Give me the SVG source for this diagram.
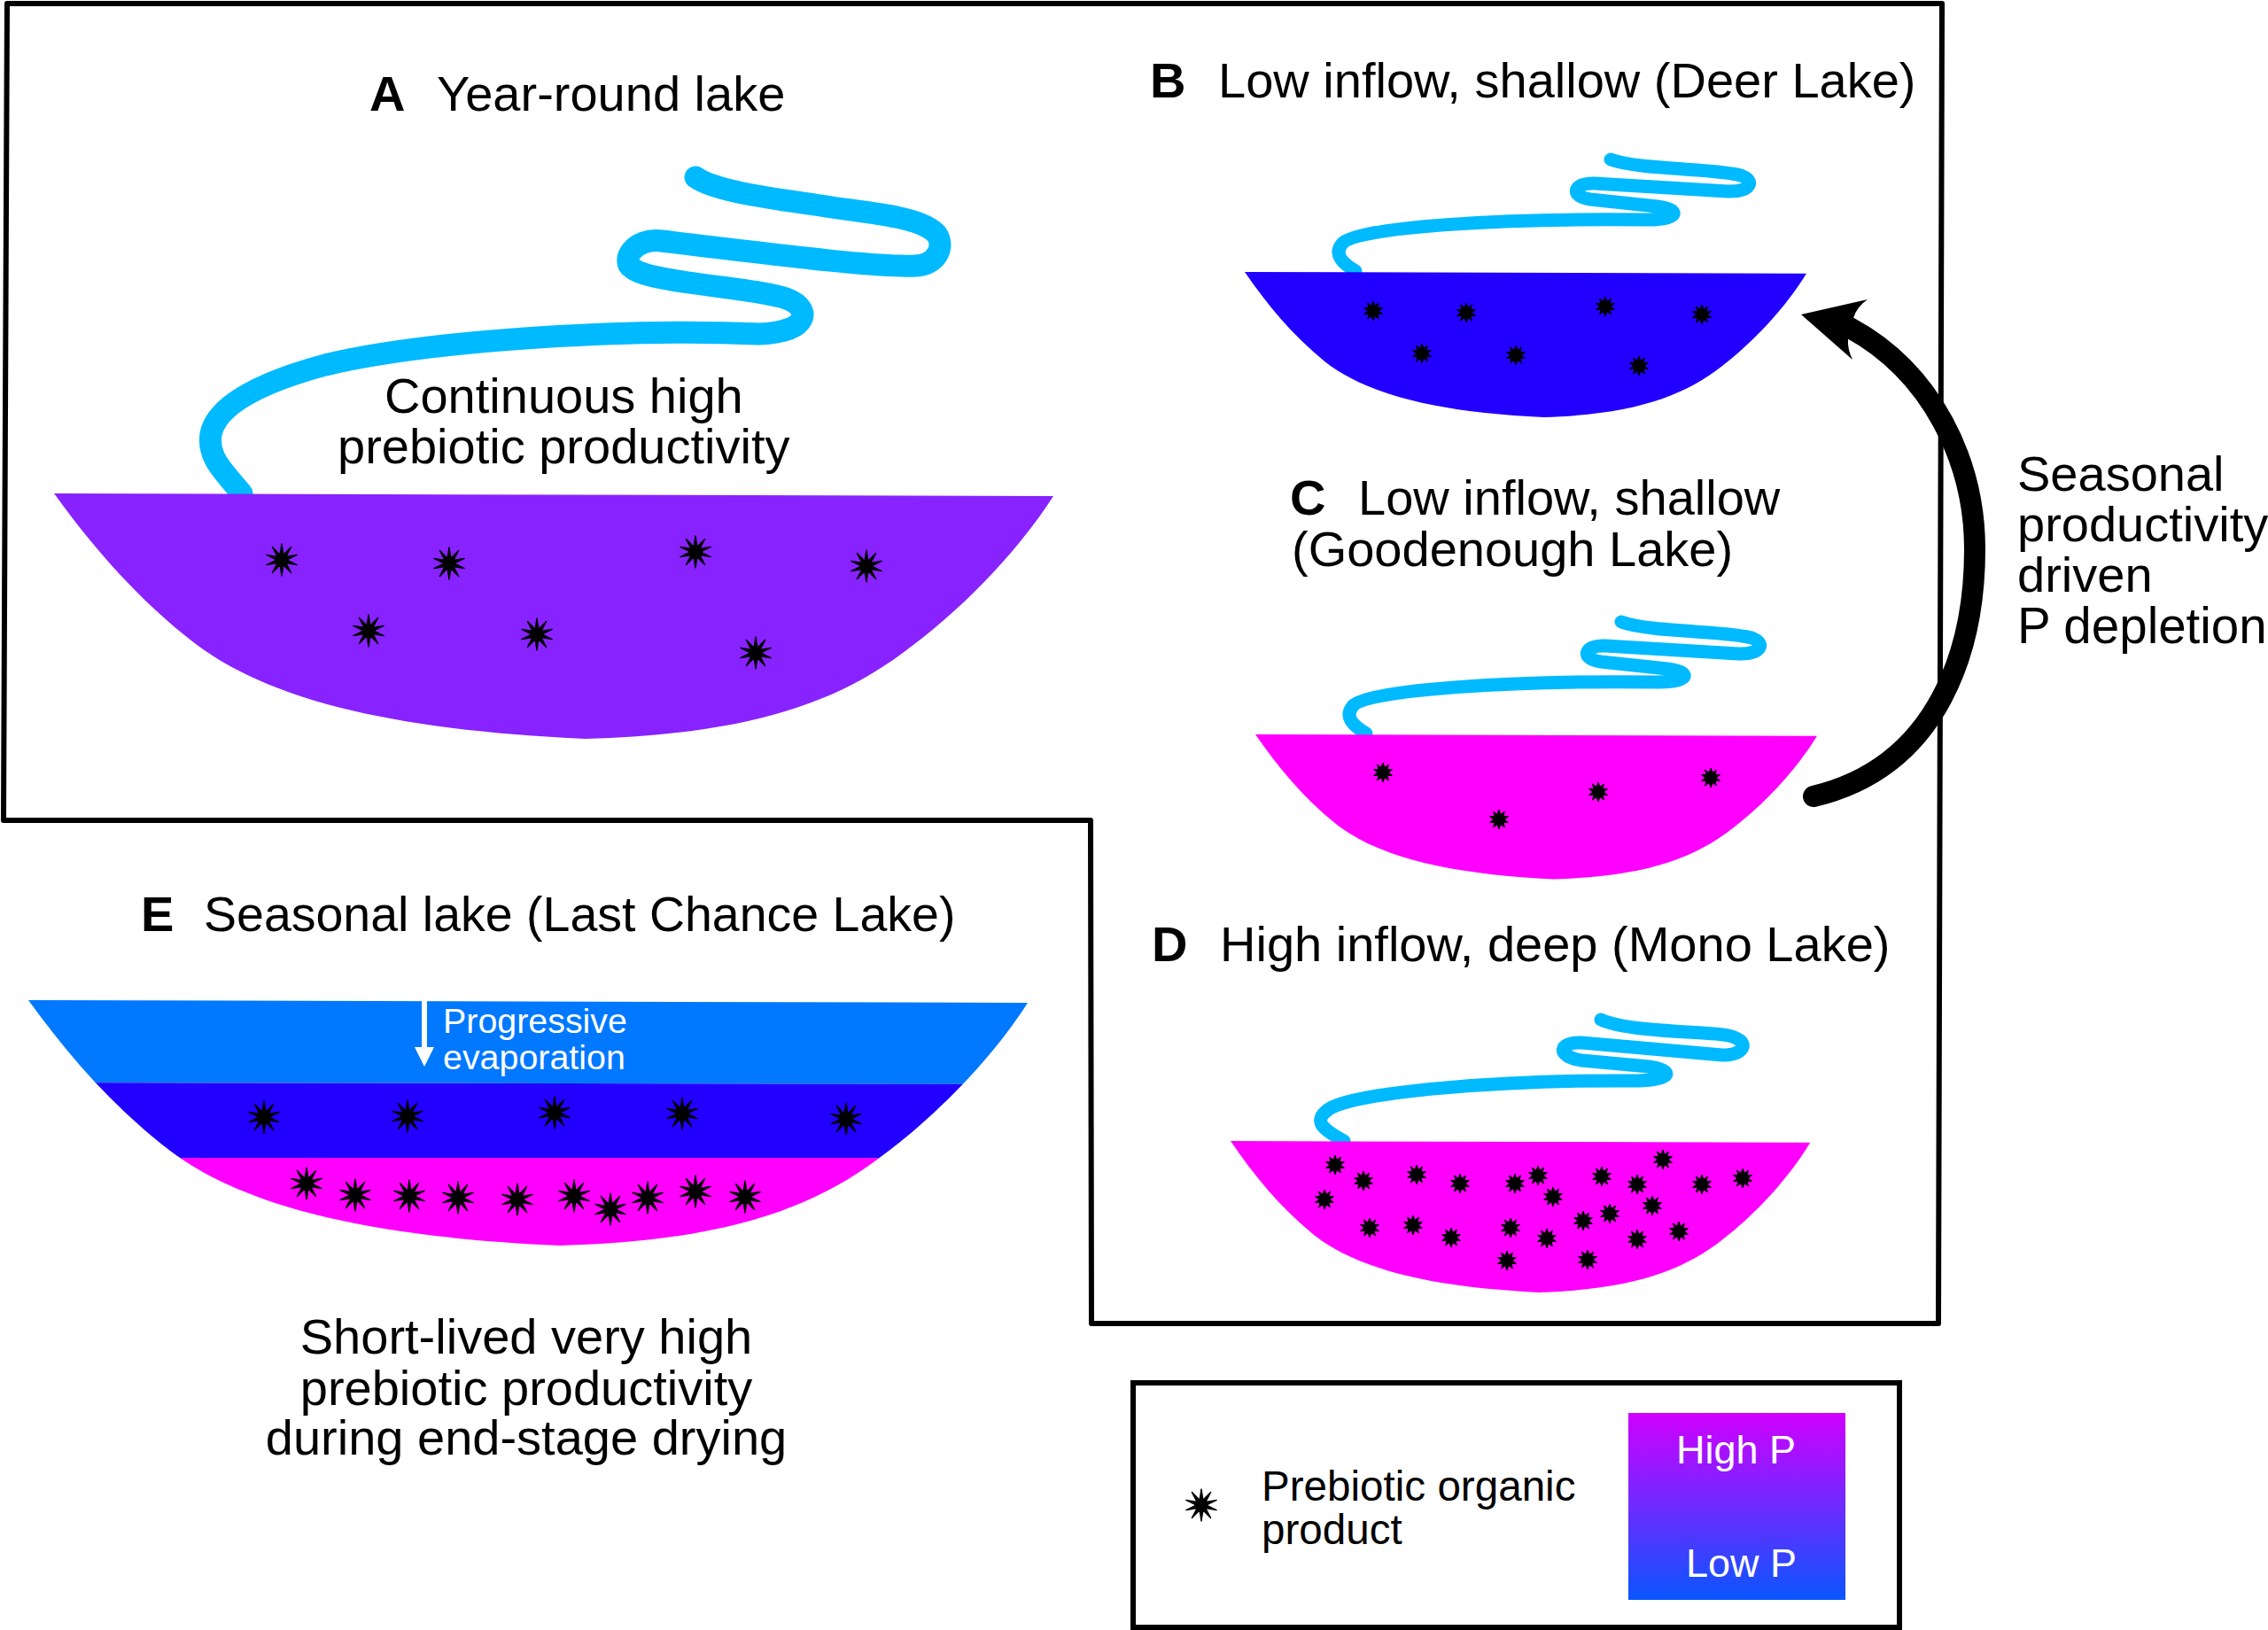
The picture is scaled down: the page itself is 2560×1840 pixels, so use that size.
<svg xmlns="http://www.w3.org/2000/svg" xmlns:xlink="http://www.w3.org/1999/xlink" width="2560" height="1840" viewBox="0 0 2560 1840">
<style>
text{font-family:"Liberation Sans",Arial,sans-serif;font-size:56px;fill:#000}
.b{font-weight:bold}
.w{fill:#fff}
.m{font-size:47.6px}
.h{font-size:45px}
.s{font-size:39.4px}
.river{fill:none;stroke:#00baff;stroke-linecap:round;stroke-linejoin:round}
.frame{fill:#fff;stroke:#000;stroke-width:6;stroke-linejoin:round}
</style>
<defs>
<path id="lake" d="M0,0 L1128,3 C1085,70 1020,135 958,180 C880,238 780,272 600,277 C400,268 250,238 160,170 C95,120 45,62 0,0Z"/>
<clipPath id="lakeE"><use href="#lake" transform="translate(32,1129)"/></clipPath>
<path id="st" stroke="#000" stroke-width="1.4" stroke-linejoin="round" fill="#000" d="M0,-18L1.9,-5.7L10.6,-14.6L4.9,-3.5L17.1,-5.6L6,0L17.1,5.6L4.9,3.5L10.6,14.6L1.9,5.7L0,18L-1.9,5.7L-10.6,14.6L-4.9,3.5L-17.1,5.6L-6,0L-17.1,-5.6L-4.9,-3.5L-10.6,-14.6L-1.9,-5.7Z"/>
<path id="ss" stroke="#000" stroke-width="1" stroke-linejoin="round" fill="#000" d="M0,-11L1.9,-5.7L6.5,-8.9L4.9,-3.5L10.5,-3.4L6,0L10.5,3.4L4.9,3.5L6.5,8.9L1.9,5.7L0,11L-1.9,5.7L-6.5,8.9L-4.9,3.5L-10.5,3.4L-6,0L-10.5,-3.4L-4.9,-3.5L-6.5,-8.9L-1.9,-5.7Z"/>
<path id="riverB" class="river" stroke-width="15" d="M1818,180 C1850,192 1940,190 1965,198 C1982,204 1976,217 1950,216 L1800,207 C1775,206 1772,222 1795,225 L1870,233 C1897,236 1897,248 1860,248 C1700,246 1530,256 1515,275 C1505,287 1515,297 1530,306"/>
<linearGradient id="pg" x1="0" y1="0" x2="0" y2="1"><stop offset="0" stop-color="#d000ff"/><stop offset="1" stop-color="#0a55ff"/></linearGradient>
</defs>
<g id="frame"><path class="frame" d="M8,4 H2192 L2188,1494 H1232 L1231,926 H4Z"/></g>
<g id="panelA">
<path class="river" stroke-width="25" d="M785,200 C810,218 890,226 939,234 C985,241 1040,245 1057,264 C1068,280 1055,300 1033,300 C990,302 880,288 747,272 C715,268 700,295 714,303 C735,320 860,325 890,338 C915,348 915,375 857,377 C700,370 480,385 367,412 C300,430 245,455 238,490 C234,515 250,530 273,557"/>
<use href="#lake" transform="translate(61,557)" fill="#8822ff"/>
<text class="b" x="417" y="125">A</text><text x="493" y="125">Year-round lake</text>
<text x="434" y="466">Continuous high</text><text x="381" y="523">prebiotic productivity</text>
<use href="#st" x="318" y="632"/><use href="#st" x="507" y="636"/><use href="#st" x="785" y="623"/><use href="#st" x="978" y="639"/><use href="#st" x="416" y="712"/><use href="#st" x="606" y="716"/><use href="#st" x="853" y="737"/>
</g>
<g id="panelB">
<use href="#riverB"/>
<use href="#lake" transform="translate(1405,307) scale(.562,.592)" fill="#2200ff"/>
<text class="b" x="1298" y="110">B</text><text x="1375" y="110">Low inflow, shallow (Deer Lake)</text>
<use href="#ss" x="1550" y="351"/><use href="#ss" x="1655" y="353"/><use href="#ss" x="1812" y="346"/><use href="#ss" x="1921" y="355"/><use href="#ss" x="1605" y="399"/><use href="#ss" x="1711" y="401"/><use href="#ss" x="1850" y="413"/>
</g>
<g id="panelC">
<use href="#riverB" transform="translate(12,522)"/>
<use href="#lake" transform="translate(1417,829) scale(.562,.59)" fill="#ff00ff"/>
<text class="b" x="1456" y="581">C</text><text x="1533" y="581">Low inflow, shallow</text><text x="1458" y="639">(Goodenough Lake)</text>
<use href="#ss" x="1561" y="872"/><use href="#ss" x="1804" y="894"/><use href="#ss" x="1931" y="878"/><use href="#ss" x="1692" y="925"/>
</g>
<g id="panelD">
<path class="river" stroke-width="15" d="M1807,1151 C1840,1166 1930,1164 1951,1169 C1975,1174 1972,1191 1944,1191 L1785,1177 C1760,1176 1755,1192 1785,1197 L1861,1204 C1890,1208 1890,1220 1842,1220 C1700,1219 1530,1232 1500,1252 C1480,1266 1495,1276 1517,1288"/>
<use href="#lake" transform="translate(1389,1288) scale(.58,.617)" fill="#ff00ff"/>
<text class="b" x="1300" y="1085">D</text><text x="1377" y="1085">High inflow, deep (Mono Lake)</text>
<use href="#ss" x="1507" y="1315"/><use href="#ss" x="1539" y="1333"/><use href="#ss" x="1495" y="1354"/><use href="#ss" x="1599" y="1326"/><use href="#ss" x="1648" y="1336"/><use href="#ss" x="1710" y="1336"/><use href="#ss" x="1736" y="1327"/><use href="#ss" x="1753" y="1351"/><use href="#ss" x="1808" y="1328"/><use href="#ss" x="1848" y="1337"/><use href="#ss" x="1877" y="1309"/><use href="#ss" x="1921" y="1337"/><use href="#ss" x="1967" y="1330"/><use href="#ss" x="1865" y="1361"/><use href="#ss" x="1817" y="1370"/><use href="#ss" x="1787" y="1378"/><use href="#ss" x="1546" y="1386"/><use href="#ss" x="1595" y="1383"/><use href="#ss" x="1638" y="1397"/><use href="#ss" x="1705" y="1386"/><use href="#ss" x="1746" y="1398"/><use href="#ss" x="1848" y="1399"/><use href="#ss" x="1895" y="1390"/><use href="#ss" x="1701" y="1423"/><use href="#ss" x="1792" y="1422"/>
</g>
<g id="panelE">
<g clip-path="url(#lakeE)">
<path d="M0,1129 H1200 V1224 L0,1222Z" fill="#0078ff"/>
<path d="M0,1222 L1200,1224 V1308 H0Z" fill="#2200ff"/>
<path d="M0,1307 H1200 V1420 H0Z" fill="#ff00ff"/>
</g>
<text class="b" x="159" y="1051">E</text><text x="230" y="1051" style="font-size:55.5px">Seasonal lake (Last Chance Lake)</text>
<path d="M476,1130 H482 V1182 H490 L479,1204 L468,1182 H476Z" fill="#fff"/>
<text class="s w" x="500" y="1166">Progressive</text><text class="s w" x="500" y="1207">evaporation</text>
<use href="#st" x="298" y="1261"/><use href="#st" x="460" y="1260"/><use href="#st" x="626" y="1256"/><use href="#st" x="770" y="1257"/><use href="#st" x="955" y="1263"/>
<use href="#st" x="346" y="1336"/><use href="#st" x="401" y="1349"/><use href="#st" x="462" y="1350"/><use href="#st" x="517" y="1352"/><use href="#st" x="584" y="1354"/><use href="#st" x="648" y="1350"/><use href="#st" x="689" y="1365"/><use href="#st" x="731" y="1352"/><use href="#st" x="785" y="1345"/><use href="#st" x="841" y="1351"/>
<text text-anchor="middle" x="594" y="1528">Short-lived very high</text><text text-anchor="middle" x="594" y="1586">prebiotic productivity</text><text text-anchor="middle" x="594" y="1642">during end-stage drying</text>
</g>
<g id="legend">
<rect x="1279" y="1561" width="865" height="276" fill="#fff" stroke="#000" stroke-width="6"/>
<use href="#st" x="1356" y="1699"/>
<text class="m" x="1424" y="1694">Prebiotic organic</text><text class="m" x="1424" y="1743">product</text>
<rect x="1838" y="1595" width="245" height="211" fill="url(#pg)"/>
<text class="h w" x="1892" y="1652">High P</text><text class="h w" x="1903" y="1780">Low P</text>
</g>
<g id="connectors">
<path d="M2047,899 C2190,865 2229,730 2229,620 C2229,520 2180,420 2088,370" fill="none" stroke="#000" stroke-width="24" stroke-linecap="round"/>
<path d="M2033,355 L2108,338 Q2096,346 2092,359 L2086,382 Q2085,394 2091,406Z" fill="#000"/>
</g>
<g id="sidelabel"><text x="2277" y="554">Seasonal</text><text x="2277" y="611">productivity</text><text x="2277" y="668">driven</text><text x="2277" y="726" style="font-size:56.5px">P depletion</text></g>
</svg>
